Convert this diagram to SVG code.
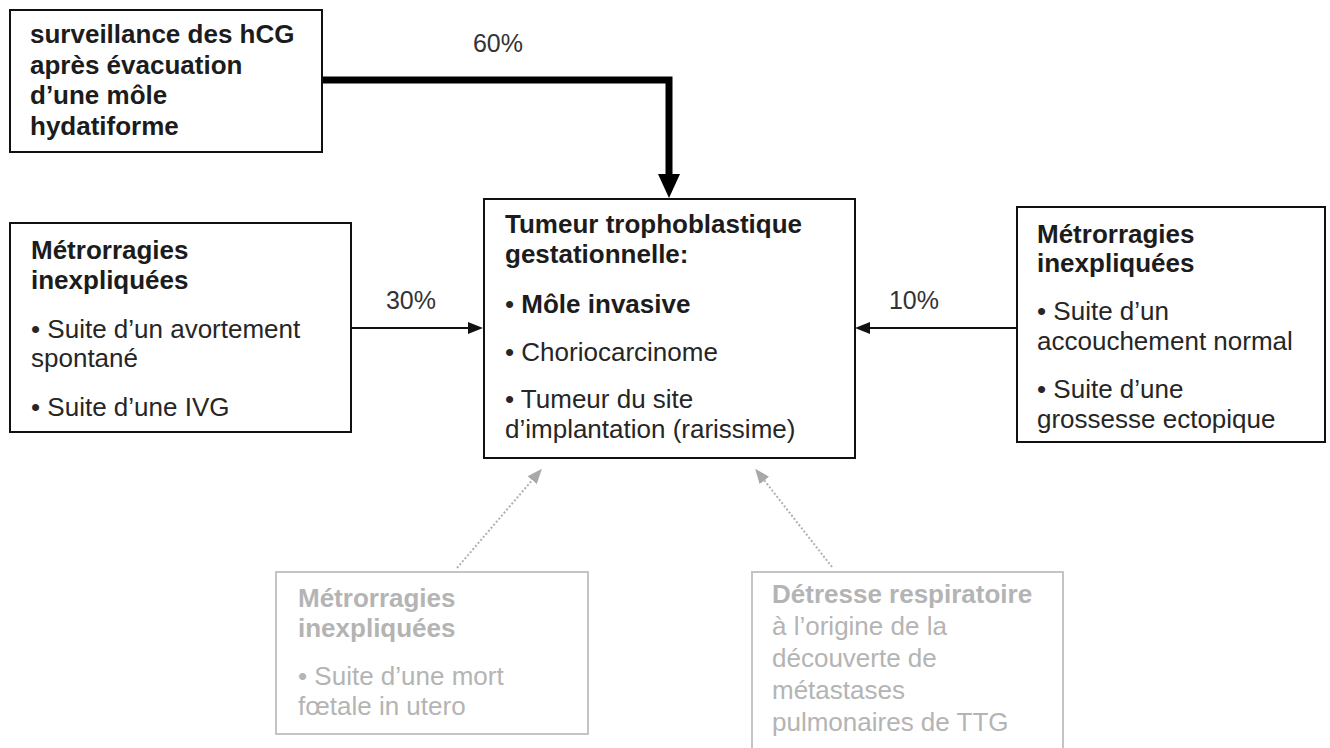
<svg xmlns="http://www.w3.org/2000/svg" width="1330" height="748" viewBox="0 0 1330 748">
<style>
  .box { fill: #ffffff; stroke: #111111; stroke-width: 2; }
  .gbox { fill: #ffffff; stroke: #c4c4c4; stroke-width: 2; }
  text { font-family: "Liberation Sans", Arial, sans-serif; font-size: 26px; fill: #262626; }
  .b { font-weight: bold; fill: #1c1c1c; }
  .g { fill: #b4b4b4; }
  .pct { font-size: 25px; fill: #333333; text-anchor: middle; }
  .thin { fill: none; stroke: #111111; stroke-width: 2; }
  .thick { fill: none; stroke: #000000; stroke-width: 7; }
  .dot { fill: none; stroke: #b0b0b0; stroke-width: 2; stroke-dasharray: 2 2; }
</style>
<defs>
  <marker id="ah" markerUnits="userSpaceOnUse" markerWidth="16" markerHeight="14" refX="12" refY="7" orient="auto">
    <path d="M0,1 L15,7 L0,13 z" fill="#111111"/>
  </marker>
  <marker id="ahThick" markerUnits="userSpaceOnUse" markerWidth="26" markerHeight="24" refX="9" refY="12" orient="auto">
    <path d="M0,1 L24,12 L0,23 z" fill="#000000"/>
  </marker>
  <marker id="ahGray" markerUnits="userSpaceOnUse" markerWidth="16" markerHeight="14" refX="12" refY="7" orient="auto">
    <path d="M0,1 L15,7 L0,13 z" fill="#a8a8a8"/>
  </marker>
</defs>
<rect width="1330" height="748" fill="#ffffff"/>

<g id="connectors">
  <path class="thick" d="M322,80 H669 V183" marker-end="url(#ahThick)"/>
  <line class="thin" x1="351" y1="328" x2="480" y2="328" marker-end="url(#ah)"/>
  <line class="thin" x1="1017" y1="328" x2="858" y2="328" marker-end="url(#ah)"/>
  <line class="dot" x1="457" y1="568" x2="540" y2="471" marker-end="url(#ahGray)"/>
  <line class="dot" x1="832" y1="567" x2="757" y2="471" marker-end="url(#ahGray)"/>
  <text class="pct" x="498" y="52">60%</text>
  <text class="pct" x="411" y="309">30%</text>
  <text class="pct" x="914" y="309">10%</text>
</g>

<g id="node-surveillance">
  <rect class="box" x="10" y="10" width="312" height="142"/>
  <text class="b" x="30" y="43">surveillance des hCG</text>
  <text class="b" x="30" y="74">après évacuation</text>
  <text class="b" x="30" y="104">d’une môle</text>
  <text class="b" x="30" y="135">hydatiforme</text>
</g>

<g id="node-metro-left">
  <rect class="box" x="10" y="223" width="341" height="209"/>
  <text class="b" x="31" y="259">Métrorragies</text>
  <text class="b" x="31" y="289">inexpliquées</text>
  <text x="31" y="338">• Suite d’un avortement</text>
  <text x="31" y="367">spontané</text>
  <text x="31" y="416">• Suite d’une IVG</text>
</g>

<g id="node-ttg">
  <rect class="box" x="484" y="199" width="371" height="259"/>
  <text class="b" x="505" y="233">Tumeur trophoblastique</text>
  <text class="b" x="505" y="263">gestationnelle:</text>
  <text x="505" y="313">• <tspan class="b">Môle invasive</tspan></text>
  <text x="505" y="361">• Choriocarcinome</text>
  <text x="505" y="408">• Tumeur du site</text>
  <text x="505" y="438">d’implantation (rarissime)</text>
</g>

<g id="node-metro-right">
  <rect class="box" x="1017" y="207" width="308" height="235"/>
  <text class="b" x="1037" y="243">Métrorragies</text>
  <text class="b" x="1037" y="272">inexpliquées</text>
  <text x="1037" y="320">• Suite d’un</text>
  <text x="1037" y="350">accouchement normal</text>
  <text x="1037" y="398">• Suite d’une</text>
  <text x="1037" y="428">grossesse ectopique</text>
</g>

<g id="node-metro-bottom">
  <rect class="gbox" x="276" y="572" width="312" height="162"/>
  <text class="b g" x="298" y="607">Métrorragies</text>
  <text class="b g" x="298" y="637">inexpliquées</text>
  <text class="g" x="298" y="685">• Suite d’une mort</text>
  <text class="g" x="298" y="715">fœtale in utero</text>
</g>

<g id="node-detresse">
  <rect class="gbox" x="752" y="572" width="311" height="182"/>
  <text class="b g" x="772" y="603">Détresse respiratoire</text>
  <text class="g" x="772" y="635">à l’origine de la</text>
  <text class="g" x="772" y="667">découverte de</text>
  <text class="g" x="772" y="699">métastases</text>
  <text class="g" x="772" y="731">pulmonaires de TTG</text>
</g>
</svg>
